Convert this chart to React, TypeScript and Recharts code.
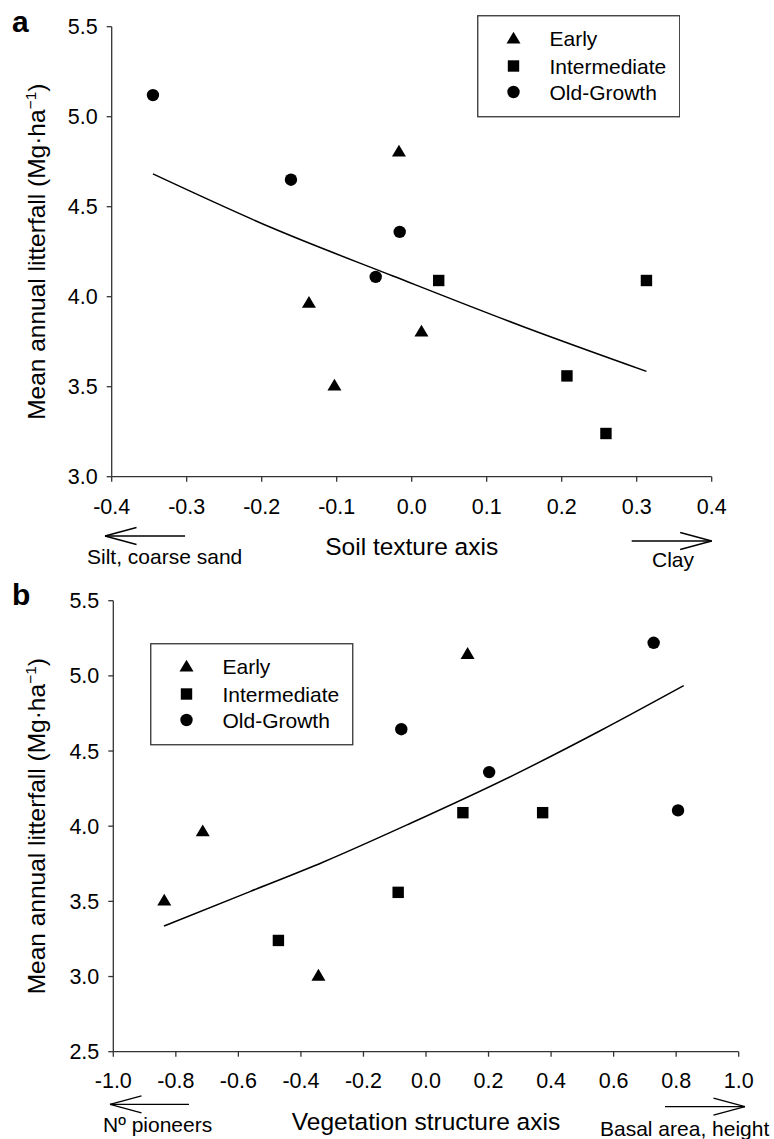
import React from "react";
import { ScatterChart, Scatter, XAxis, YAxis, Legend } from "recharts";

// ---------- data ----------
const SERIES_NAMES = ["Early", "Intermediate", "Old-Growth"];

const SOIL_TICKS = [-0.4, -0.3, -0.2, -0.1, 0, 0.1, 0.2, 0.3, 0.4];
const LITTER_TICKS_A = [3.0, 3.5, 4.0, 4.5, 5.0, 5.5];
const VEG_TICKS = [-1.0, -0.8, -0.6, -0.4, -0.2, 0, 0.2, 0.4, 0.6, 0.8, 1.0];
const LITTER_TICKS_B = [2.5, 3.0, 3.5, 4.0, 4.5, 5.0, 5.5];

const soilEarly = [
  { x: -0.017, y: 4.81 },
  { x: -0.137, y: 3.97 },
  { x: -0.103, y: 3.51 },
  { x: 0.013, y: 3.81 },
];
const soilIntermediate = [
  { x: 0.036, y: 4.09 },
  { x: 0.313, y: 4.09 },
  { x: 0.207, y: 3.56 },
  { x: 0.259, y: 3.24 },
];
const soilOldGrowth = [
  { x: -0.345, y: 5.12 },
  { x: -0.161, y: 4.65 },
  { x: -0.016, y: 4.36 },
  { x: -0.048, y: 4.11 },
];
const soilFit = [
  { x: -0.345, y: 4.682 },
  { x: -0.185, y: 4.38 },
  { x: -0.025, y: 4.115 },
  { x: 0.149, y: 3.833 },
  { x: 0.313, y: 3.585 },
];

const vegEarly = [
  { x: -0.837, y: 3.51 },
  { x: -0.714, y: 3.97 },
  { x: -0.344, y: 3.01 },
  { x: 0.133, y: 5.15 },
];
const vegIntermediate = [
  { x: -0.472, y: 3.24 },
  { x: -0.089, y: 3.56 },
  { x: 0.118, y: 4.09 },
  { x: 0.373, y: 4.09 },
];
const vegOldGrowth = [
  { x: -0.079, y: 4.645 },
  { x: 0.202, y: 4.36 },
  { x: 0.728, y: 5.22 },
  { x: 0.806, y: 4.105 },
];
const vegFit = [
  { x: -0.838, y: 3.336 },
  { x: -0.563, y: 3.565 },
  { x: -0.328, y: 3.762 },
  { x: -0.051, y: 4.018 },
  { x: 0.28, y: 4.34 },
  { x: 0.557, y: 4.635 },
  { x: 0.824, y: 4.935 },
];

// ---------- styling ----------
const FONT = '"Liberation Sans", Arial, Helvetica, sans-serif';
const AXIS_COLOR = "#333";
const INK = "#000";

// ---------- marker shapes ----------
const TriangleShape = (p: any) => {
  const { cx, cy } = p;
  if (cx == null || cy == null) return <g />;
  return <path d={`M${cx},${cy - 6.2} L${cx + 7},${cy + 5.6} L${cx - 7},${cy + 5.6} Z`} fill={INK} />;
};
const SquareShape = (p: any) => {
  const { cx, cy } = p;
  if (cx == null || cy == null) return <g />;
  return <rect x={cx - 5.7} y={cy - 5.7} width={11.4} height={11.4} fill={INK} />;
};
const CircleShape = (p: any) => {
  const { cx, cy } = p;
  if (cx == null || cy == null) return <g />;
  return <circle cx={cx} cy={cy} r={6.2} fill={INK} />;
};
const NoShape = () => <g />;

const SHAPES = [TriangleShape, SquareShape, CircleShape];

// ---------- annotation helpers ----------
function Arrow({ tail, tip, y }: { tail: number; tip: number; y: number }) {
  const back = tip > tail ? -31.5 : 31.5;
  return (
    <g stroke={INK} strokeWidth={1.3} fill="none">
      <line x1={tail} y1={y} x2={tip} y2={y} />
      <line x1={tip} y1={y} x2={tip + back} y2={y - 8.5} />
      <line x1={tip} y1={y} x2={tip + back} y2={y + 8.5} />
    </g>
  );
}

function LegendBox({ width, height }: { width: number; height: number }) {
  const rows = [23, 51, 77];
  return (
    <svg width={width} height={height} style={{ display: "block" }}>
      <rect x={0.75} y={0.75} width={width - 1.5} height={height - 1.5} fill="#fff" stroke="#333" strokeWidth={1.3} />
      {SERIES_NAMES.map((name, i) => {
        const Shape = SHAPES[i];
        return (
          <g key={name}>
            <Shape cx={36.5} cy={rows[i]} />
            <text x={72.5} y={rows[i] + 7.5} fontFamily={FONT} fontSize={21} fill={INK}>
              {name}
            </text>
          </g>
        );
      })}
    </svg>
  );
}

type PanelCfg = {
  letter: string;
  width: number;
  height: number;
  plotLeft: number;
  plotTop: number;
  plotRight: number;
  plotBottom: number;
  xTicks: number[];
  yTicks: number[];
  early: { x: number; y: number }[];
  intermediate: { x: number; y: number }[];
  oldGrowth: { x: number; y: number }[];
  fit: { x: number; y: number }[];
  xTitle: string;
  leftText: string;
  rightText: string;
  legend: { left: number; top: number; width: number; height: number };
  ann: {
    lArrowY: number;
    lArrowTail: number;
    lArrowTip: number;
    lTextX: number;
    lTextY: number;
    rArrowY: number;
    rArrowTail: number;
    rArrowTip: number;
    rTextX: number;
    rTextY: number;
    rAnchor: "start" | "middle";
    yTitleX: number;
    letterX: number;
    letterY: number;
    tickMargin: number;
  };
};

const Y_AXIS_W = 60;
const X_AXIS_H = 30;

function Panel({ cfg }: { cfg: PanelCfg }) {
  const margin = {
    top: cfg.plotTop,
    left: cfg.plotLeft - Y_AXIS_W,
    right: cfg.width - cfg.plotRight,
    bottom: cfg.height - cfg.plotBottom - X_AXIS_H,
  };
  const a = cfg.ann;
  const L = cfg.plotLeft;
  const R = cfg.plotRight;
  const B = cfg.plotBottom;
  const T = cfg.plotTop;

  const xLabel = () => (
    <g fontFamily={FONT} fill={INK}>
      <text x={(L + R) / 2} y={B + 78.5} textAnchor="middle" fontSize={24.5} fill={INK}>
        {cfg.xTitle}
      </text>
      <Arrow tail={L + a.lArrowTail} tip={L + a.lArrowTip} y={B + a.lArrowY} />
      <text x={L + a.lTextX} y={B + a.lTextY} fontSize={21} fill={INK}>
        {cfg.leftText}
      </text>
      <Arrow tail={R + a.rArrowTail} tip={R + a.rArrowTip} y={B + a.rArrowY} />
      <text x={R + a.rTextX} y={B + a.rTextY} fontSize={21} textAnchor={a.rAnchor} fill={INK}>
        {cfg.rightText}
      </text>
    </g>
  );

  const yLabel = () => {
    const cy = (T + B) / 2;
    const x0 = a.yTitleX;
    return (
      <g fontFamily={FONT} fill={INK}>
        <text
          x={x0}
          y={cy}
          textAnchor="middle"
          fontSize={24.5}
          fill={INK}
          transform={`rotate(-90 ${x0} ${cy})`}
        >
          Mean annual litterfall (Mg·ha
          <tspan fontSize={15.5} dy={-9.5}>
            −1
          </tspan>
          <tspan dy={9.5}>)</tspan>
        </text>
        <text x={a.letterX} y={a.letterY} fontSize={30} fontWeight="bold" fill={INK}>
          {cfg.letter}
        </text>
      </g>
    );
  };

  const tickStyle = { fontFamily: FONT, fontSize: 21.5, fill: INK };
  const fmt = (v: number) => v.toFixed(1);

  return (
    <ScatterChart width={cfg.width} height={cfg.height} margin={margin}>
      <XAxis
        type="number"
        dataKey="x"
        domain={[cfg.xTicks[0], cfg.xTicks[cfg.xTicks.length - 1]]}
        ticks={cfg.xTicks}
        tickFormatter={fmt}
        height={X_AXIS_H}
        axisLine={{ stroke: AXIS_COLOR, strokeWidth: 1.3 }}
        tickLine={{ stroke: AXIS_COLOR, strokeWidth: 1.3 }}
        tickSize={5}
        tickMargin={a.tickMargin}
        tick={tickStyle}
        interval={0}
        allowDataOverflow
        label={xLabel}
      />
      <YAxis
        type="number"
        dataKey="y"
        domain={[cfg.yTicks[0], cfg.yTicks[cfg.yTicks.length - 1]]}
        ticks={cfg.yTicks}
        tickFormatter={fmt}
        width={Y_AXIS_W}
        axisLine={{ stroke: AXIS_COLOR, strokeWidth: 1.3 }}
        tickLine={{ stroke: AXIS_COLOR, strokeWidth: 1.3 }}
        tickSize={5}
        tickMargin={9}
        tick={tickStyle}
        interval={0}
        allowDataOverflow
        label={yLabel}
      />
      <Legend
        layout="vertical"
        align="center"
        verticalAlign="middle"
        wrapperStyle={{
          position: "absolute",
          left: cfg.legend.left,
          top: cfg.legend.top,
          width: cfg.legend.width,
          height: cfg.legend.height,
        }}
        content={() => <LegendBox width={cfg.legend.width} height={cfg.legend.height} />}
      />
      <Scatter
        name="fit"
        data={cfg.fit}
        line={{ stroke: INK, strokeWidth: 1.5 }}
        lineJointType="monotoneX"
        shape={NoShape}
        isAnimationActive={false}
        legendType="none"
      />
      <Scatter name={SERIES_NAMES[0]} data={cfg.early} shape={TriangleShape} isAnimationActive={false} />
      <Scatter name={SERIES_NAMES[1]} data={cfg.intermediate} shape={SquareShape} isAnimationActive={false} />
      <Scatter name={SERIES_NAMES[2]} data={cfg.oldGrowth} shape={CircleShape} isAnimationActive={false} />
    </ScatterChart>
  );
}

const panelA: PanelCfg = {
  letter: "a",
  width: 774,
  height: 595,
  plotLeft: 111.7,
  plotTop: 26.7,
  plotRight: 711.7,
  plotBottom: 476.7,
  xTicks: SOIL_TICKS,
  yTicks: LITTER_TICKS_A,
  early: soilEarly,
  intermediate: soilIntermediate,
  oldGrowth: soilOldGrowth,
  fit: soilFit,
  xTitle: "Soil texture axis",
  leftText: "Silt, coarse sand",
  rightText: "Clay",
  legend: { left: 476.7, top: 15, width: 203.5, height: 102.5 },
  ann: {
    lArrowY: 59.3,
    lArrowTail: 73.3,
    lArrowTip: -6.7,
    lTextX: -24.7,
    lTextY: 87.3,
    rArrowY: 64.3,
    rArrowTail: -80,
    rArrowTip: 0,
    rTextX: -38.7,
    rTextY: 90.3,
    rAnchor: "middle",
    yTitleX: 45.5,
    letterX: 12,
    letterY: 31.7,
    tickMargin: 17,
  },
};

const PANEL_B_TOP = 560;
const panelB: PanelCfg = {
  letter: "b",
  width: 774,
  height: 579,
  plotLeft: 113.3,
  plotTop: 600.7 - PANEL_B_TOP,
  plotRight: 738.7,
  plotBottom: 1051.7 - PANEL_B_TOP,
  xTicks: VEG_TICKS,
  yTicks: LITTER_TICKS_B,
  early: vegEarly,
  intermediate: vegIntermediate,
  oldGrowth: vegOldGrowth,
  fit: vegFit,
  xTitle: "Vegetation structure axis",
  leftText: "Nº pioneers",
  rightText: "Basal area, height",
  legend: { left: 150, top: 643 - PANEL_B_TOP, width: 203.5, height: 102.5 },
  ann: {
    lArrowY: 52.6,
    lArrowTail: 75.7,
    lArrowTip: -3.3,
    lTextX: -10.3,
    lTextY: 80.3,
    rArrowY: 55,
    rArrowTail: -73.7,
    rArrowTip: 6.3,
    rTextX: -138.7,
    rTextY: 84.3,
    rAnchor: "start",
    yTitleX: 45.5,
    letterX: 12,
    letterY: 605 - PANEL_B_TOP,
    tickMargin: 16,
  },
};

export default function App() {
  return (
    <div
      style={{
        position: "absolute",
        left: 0,
        top: 0,
        width: 774,
        height: 1139,
        background: "#fff",
        overflow: "hidden",
      }}
    >
      <div style={{ position: "absolute", left: 0, top: 0 }}>
        <Panel cfg={panelA} />
      </div>
      <div style={{ position: "absolute", left: 0, top: PANEL_B_TOP }}>
        <Panel cfg={panelB} />
      </div>
    </div>
  );
}
